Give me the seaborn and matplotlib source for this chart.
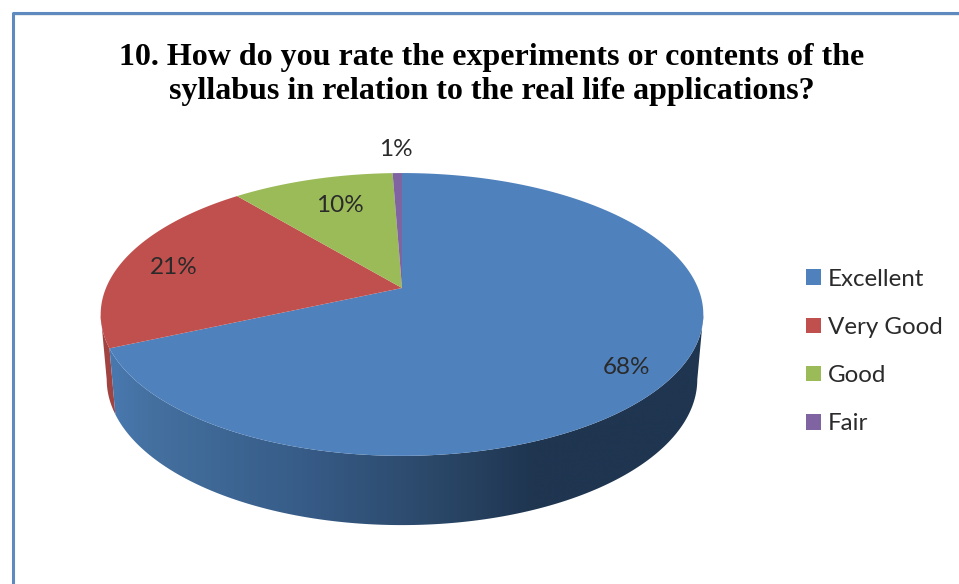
"""Pie 3D da pergunta 10: face superior em perspectiva, parede lateral e legenda."""
import numpy as np
import matplotlib
matplotlib.use("Agg")
import matplotlib.pyplot as plt
from matplotlib.colors import LinearSegmentedColormap
from matplotlib.patches import Patch, Polygon
import seaborn as sns

TITLE = ("10. How do you rate the experiments or contents of the\n"
         "syllabus in relation to the real life applications?")
categories = ["Excellent", "Very Good", "Good", "Fair"]
shares = [68.3, 20.7, 10.4, 0.6]
labels = ["68%", "21%", "10%", "1%"]

APEX_X, APEX_Y = 402, 288
RX, SLOPE, TILT = 296, 0.187, -82.6
LABEL_XY = [(626, 367), (174, 267), (340, 206), (396, 150)]

sns.set_theme(style="white")
colors = sns.color_palette(["#4F81BD", "#C0504D", "#9BBB59", "#8064A2"])


def project(angle_deg):
    """Leva o ângulo do pie (horário, a partir do topo) para a borda da elipse."""
    a = np.radians(angle_deg)
    den = 1 + SLOPE * np.cos(a)
    return APEX_X + RX * np.sin(a) / den, (TILT * np.cos(a) + APEX_Y) / den


def lower_rim(x, y):
    return APEX_X + (x - APEX_X) * 0.98, 379 + (y - 314) * 1.03


def wall_polygon(start, stop):
    x, y = project(np.linspace(start, stop, 200))
    bx, by = lower_rim(x, y)
    return np.column_stack([np.r_[x, bx[::-1]], np.r_[y, by[::-1]]])


fig, ax = plt.subplots(figsize=(9.59, 5.84), dpi=100)
fig.subplots_adjust(0, 0, 1, 1)
ax.set_axis_off()

edges = np.r_[0, np.cumsum(shares)] * 3.6

# paredes laterais (vermelha fica atrás da azul)
ax.add_patch(Polygon(wall_polygon(edges[1], 259.2), closed=True, fc="#A04341", ec="none", zorder=1))
blue_wall = Polygon(wall_polygon(100.8, edges[1]), closed=True, fc="none", ec="none", zorder=2)
ax.add_patch(blue_wall)
shade = LinearSegmentedColormap.from_list(
    "lado", [(0, "#4A7AB3"), (0.08, "#44709F"), (0.33, "#375C88"), (0.55, "#2B4869"),
             (0.72, "#1F3550"), (1, "#1F3550")])
img = ax.imshow(np.linspace(0, 1, 300)[None, :], cmap=shade, extent=(102, 704, 540, 300),
                aspect="auto", zorder=2)
img.set_clip_path(blue_wall)

# face superior
for i, color in enumerate(colors):
    x, y = project(np.linspace(edges[i], edges[i + 1], 200))
    ax.fill(np.r_[APEX_X, x], np.r_[APEX_Y, y], color=color, lw=0, zorder=3)

for text, (x, y) in zip(labels, LABEL_XY):
    ax.text(x, y, text, ha="center", va="center", fontsize=17.5, family="Lato",
            color="#2A2A2A", zorder=4)

ax.text(492, 74.5, TITLE, ha="center", va="center", fontsize=23, family="Liberation Serif",
        weight="bold", color="black", linespacing=1.27)

handles = [Patch(fc=c, ec="none") for c in colors]
ax.legend(handles, categories, loc="center left", bbox_to_anchor=(806, 351.5),
          bbox_transform=ax.transData, frameon=False, borderpad=0, borderaxespad=0,
          handlelength=0.62, handleheight=0.62, handletextpad=0.3, labelspacing=1.125,
          prop={"family": "Lato", "size": 17.4}, labelcolor="#2A2A2A")

# moldura do gráfico
ax.plot([12.5, 959], [14, 14], color="#A6A6A6", lw=1, zorder=5)
ax.plot([12.5, 12.5, 959], [584, 12.5, 12.5], color="#5F8AC0", lw=2.2, zorder=6)

ax.set_xlim(0, 959)
ax.set_ylim(584, 0)
fig.savefig("out.png", dpi=100, facecolor="white")
